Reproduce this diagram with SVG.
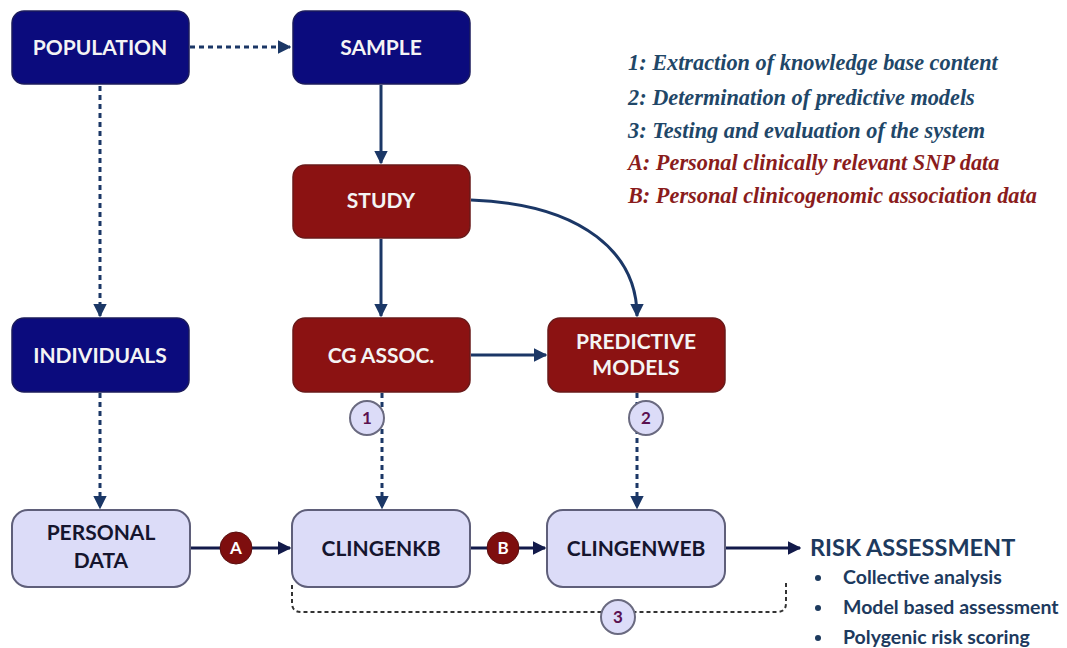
<svg xmlns="http://www.w3.org/2000/svg" width="1067" height="648" viewBox="0 0 1067 648">
  <style>
    .box { stroke-width: 1.5; }
    .navy { fill: #0b0b7d; stroke: #1c1c5c; }
    .red { fill: #8b1212; stroke: #6a1a1a; }
    .light { fill: #dcdcf8; stroke: #5f5f7a; stroke-width: 2; }
    .lbl { font-family: "Lato", "Open Sans", sans-serif; font-weight: bold; font-size: 21px; text-anchor: middle; }
    .lw { fill: #f4f4f4; }
    .ld { fill: #15152e; }
    .solid { fill: none; stroke: #1b3766; stroke-width: 3; }
    .solidk { fill: none; stroke: #121a4a; stroke-width: 3; }
    .dot { fill: none; stroke: #1b3766; stroke-width: 3; stroke-dasharray: 5 4; }
    .dotk { fill: none; stroke: #333; stroke-width: 2; stroke-dasharray: 4 3; }
    .num { fill: #dcdcf8; stroke: #6a6a80; stroke-width: 2; }
    .numt { font-family: "Lato", "Open Sans", sans-serif; font-weight: bold; font-size: 17px; fill: #5a1050; text-anchor: middle; }
    .let { fill: #7e0e0e; stroke: #5a1010; stroke-width: 1; }
    .lett { font-family: "Lato", "Open Sans", sans-serif; font-weight: bold; font-size: 17px; fill: #ffffff; text-anchor: middle; }
    .leg { font-family: "Liberation Serif", serif; font-style: italic; font-weight: bold; font-size: 22.3px; }
    .lb { fill: #1f4768; }
    .lr { fill: #8a1c1c; }
    .risk { font-family: "Lato", "Open Sans", sans-serif; font-weight: bold; fill: #1d3a5e; }
  </style>
  <defs>
    <marker id="arr" viewBox="0 0 10 10" refX="9" refY="5" markerWidth="4.5" markerHeight="4.5" orient="auto" markerUnits="strokeWidth">
      <path d="M0,0 L10,5 L0,10 Z" fill="#1b3766"/>
    </marker>
    <marker id="arrk" viewBox="0 0 10 10" refX="9" refY="5" markerWidth="4.5" markerHeight="4.5" orient="auto" markerUnits="strokeWidth">
      <path d="M0,0 L10,5 L0,10 Z" fill="#121a4a"/>
    </marker>
  </defs>
  <rect width="1067" height="648" fill="#ffffff"/>

  <!-- connectors -->
  <g id="connectors">
    <path class="dot" d="M190,47 H290" marker-end="url(#arr)"/>
    <path class="dot" d="M100,86 V316" marker-end="url(#arr)"/>
    <path class="dot" d="M100,393 V508" marker-end="url(#arr)"/>
    <path class="solid" d="M381,85 V163" marker-end="url(#arr)"/>
    <path class="solid" d="M381,239 V316" marker-end="url(#arr)"/>
    <path class="solid" d="M471,200 C585,204 637,255 637,316" marker-end="url(#arr)"/>
    <path class="solid" d="M471,355 H546" marker-end="url(#arr)"/>
    <path class="dot" d="M382,393 V508" marker-end="url(#arr)"/>
    <path class="dot" d="M637,393 V508" marker-end="url(#arr)"/>
    <path class="solidk" d="M191,548 H290" marker-end="url(#arrk)"/>
    <path class="solidk" d="M471,548 H545" marker-end="url(#arrk)"/>
    <path class="solidk" d="M726,548 H800" marker-end="url(#arrk)"/>
    <path class="dotk" d="M292,585 V603 Q292,612 301,612 H777 Q786,612 786,603 V583"/>
  </g>

  <!-- step markers -->
  <g id="marker-1"><circle class="num" cx="367" cy="418" r="17"/><text class="numt" x="367" y="424">1</text></g>
  <g id="marker-2"><circle class="num" cx="646" cy="418" r="17"/><text class="numt" x="646" y="424">2</text></g>
  <g id="marker-3"><circle class="num" cx="618" cy="617" r="17"/><text class="numt" x="618" y="623">3</text></g>
  <g id="marker-A"><circle class="let" cx="236" cy="548" r="16"/><text class="lett" x="236" y="554">A</text></g>
  <g id="marker-B"><circle class="let" cx="503" cy="548" r="16"/><text class="lett" x="503" y="554">B</text></g>

  <!-- nodes -->
  <g id="population"><rect class="box navy" x="12" y="11" width="177" height="73" rx="12"/><text class="lbl lw" x="100" y="55">POPULATION</text></g>
  <g id="sample"><rect class="box navy" x="293" y="11" width="177" height="73" rx="12"/><text class="lbl lw" x="381" y="55">SAMPLE</text></g>
  <g id="study"><rect class="box red" x="293" y="165" width="177" height="73" rx="12"/><text class="lbl lw" x="381" y="208">STUDY</text></g>
  <g id="individuals"><rect class="box navy" x="12" y="318" width="177" height="74" rx="12"/><text class="lbl lw" x="100" y="363">INDIVIDUALS</text></g>
  <g id="cg-assoc"><rect class="box red" x="293" y="318" width="177" height="74" rx="12"/><text class="lbl lw" x="381" y="363">CG ASSOC.</text></g>
  <g id="predictive-models"><rect class="box red" x="548" y="318" width="177" height="74" rx="12"/><text class="lbl lw" x="636" y="349">PREDICTIVE</text><text class="lbl lw" x="636" y="375">MODELS</text></g>
  <g id="personal-data"><rect class="light" x="12" y="510" width="178" height="77" rx="16"/><text class="lbl ld" x="101" y="540">PERSONAL</text><text class="lbl ld" x="101" y="568">DATA</text></g>
  <g id="clingenkb"><rect class="light" x="292" y="510" width="178" height="77" rx="16"/><text class="lbl ld" x="381" y="556">CLINGENKB</text></g>
  <g id="clingenweb"><rect class="light" x="547" y="510" width="178" height="77" rx="16"/><text class="lbl ld" x="636" y="556">CLINGENWEB</text></g>

  <!-- outcome -->
  <g id="risk-assessment">
    <text class="risk" x="810" y="556" font-size="23.5">RISK ASSESSMENT</text>
    <circle cx="818" cy="578" r="3" fill="#1d3a5e"/>
    <circle cx="818" cy="608" r="3" fill="#1d3a5e"/>
    <circle cx="818" cy="638" r="3" fill="#1d3a5e"/>
    <text class="risk" x="843" y="584" font-size="19.5">Collective analysis</text>
    <text class="risk" x="843" y="614" font-size="19.5">Model based assessment</text>
    <text class="risk" x="843" y="644" font-size="19.5">Polygenic risk scoring</text>
  </g>

  <!-- legend -->
  <g id="legend" class="leg">
    <text class="lb" x="628" y="70">1: Extraction of knowledge base content</text>
    <text class="lb" x="628" y="105">2: Determination of predictive models</text>
    <text class="lb" x="628" y="138">3: Testing and evaluation of the system</text>
    <text class="lr" x="628" y="170">A: Personal clinically relevant SNP data</text>
    <text class="lr" x="628" y="203">B: Personal clinicogenomic association data</text>
  </g>
</svg>
